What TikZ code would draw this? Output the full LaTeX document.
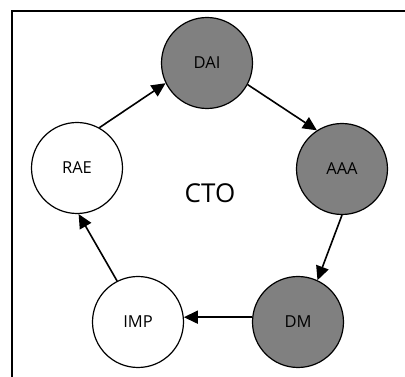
\documentclass[tikz,border=0pt]{standalone}
\usepackage{fontspec}
\setmainfont{Open Sans}
\usetikzlibrary{arrows.meta}
\definecolor{darkfill}{HTML}{808080}
\begin{document}
\begin{tikzpicture}[x=1pt,y=1pt,
  stage/.style={circle,draw=black,line width=1.2pt,minimum size=91pt,inner sep=0pt,font=\fontsize{16.5}{20}\selectfont},
  dark/.style={stage,fill=darkfill},
  light/.style={stage,fill=white},
  flow/.style={line width=1.6pt,-{Triangle[length=14pt,width=13pt]}}]
\useasboundingbox (0,0) rectangle (405,377);
\draw[line width=2pt] (405,366) -- (11.5,366) -- (11.5,0);
\node[dark]  (dai) at (207,314) {DAI};
\node[dark]  (aaa) at (342,208) {AAA};
\node[dark]  (dm)  at (298,55)  {DM};
\node[light] (imp) at (138,55)  {IMP};
\node[light] (rae) at (77,209)  {RAE};
\node[font=\fontsize{26}{31}\selectfont] (cto) at (210,184) {CTO};
\draw[flow] (rae.61) -- (dai.206);
\draw[flow] (dai.-28) -- (aaa.123);
\draw[flow] (aaa.-90) -- (dm.65);
\draw[flow] (dm.174) -- (imp.6);
\draw[flow] (imp.117) -- (rae.-88);
\end{tikzpicture}
\end{document}
